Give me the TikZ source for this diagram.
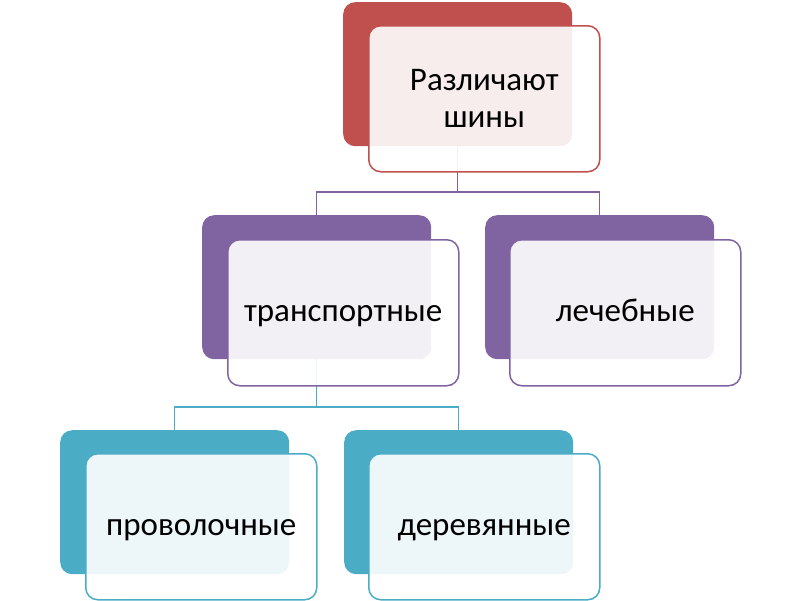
\documentclass[tikz,border=0pt]{standalone}
\usepackage{fontspec}
\setmainfont{Carlito}
\definecolor{cred}{HTML}{C0504D}
\definecolor{cpur}{HTML}{8064A2}
\definecolor{cteal}{HTML}{4BACC6}
\begin{document}
\begin{tikzpicture}[x=1pt,y=-1pt,
  backbox/.style={fill=#1, draw=none, rounded corners=12pt, minimum width=229pt, minimum height=144pt, anchor=north west, inner sep=0pt},
  frontbox/.style={fill=white, fill opacity=0.9, text opacity=1, draw=#1, line width=1.5pt, rounded corners=12pt, minimum width=231pt, minimum height=146pt, anchor=north west, inner sep=0pt, align=center, font=\fontsize{33}{37}\selectfont},
  oneline/.style={text height=24pt, text depth=7pt},
  conn/.style={draw=#1, line width=1.5pt}]
\useasboundingbox (0,0) rectangle (800,600);
% connectors (behind)
\coordinate (rbs) at (457.5,146);
\coordinate (pls) at (316.5,359);
\draw[conn=cpur] (rbs) -- ++(0,46) -| (316.5,215);
\draw[conn=cpur] (rbs) -- ++(0,46) -| (599.5,215);
\draw[conn=cteal] (pls) -- ++(0,48) -| (174.5,430);
\draw[conn=cteal] (pls) -- ++(0,48) -| (458.5,430);
% top
\node[backbox=cred] (rb) at (343,2) {};
\node[frontbox=cred] (rf) at (368,25) {Различают\\шины};
% purple
\node[backbox=cpur] (pl) at (202,215) {};
\node[frontbox=cpur, oneline] (plf) at (227,239) {транспортные};
\node[backbox=cpur] (pr) at (485,215) {};
\node[frontbox=cpur, oneline] (prf) at (509,239) {лечебные};
% teal
\node[backbox=cteal] (tl) at (60,430) {};
\node[frontbox=cteal, oneline] (tlf) at (85,453) {проволочные};
\node[backbox=cteal] (tr) at (344,430) {};
\node[frontbox=cteal, oneline] (trf) at (368,453) {деревянные};
\end{tikzpicture}
\end{document}
